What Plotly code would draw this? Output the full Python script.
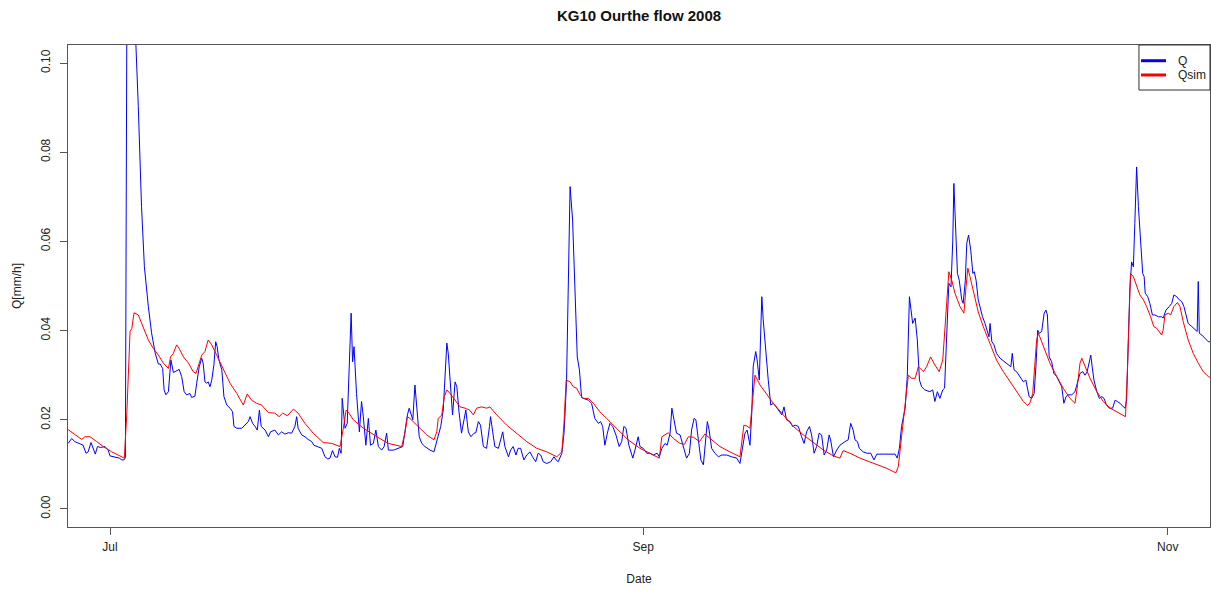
import pandas as pd
import plotly.graph_objects as go

# Hourly discharge series, hours counted from 2008-07-01 00:00
START = "2008-07-01"

Q_HOURS = [
    -117, -107, -98, -84, -75, -67, -61, -53, -47, -41, -35, -26, -14, -5, 0, 14, 26, 33, 39, 43,
    45, 47, 52, 59, 67, 73, 79, 88, 96, 107, 116, 126, 135, 140, 147, 151, 156, 163, 167, 170,
    177, 186, 193, 200, 207, 214, 223, 228, 237, 242, 249, 256, 260, 265, 270, 274, 279, 284, 290, 295,
    299, 304, 312, 318, 326, 335, 342, 346, 354, 368, 377, 386, 391, 398, 405, 411, 417, 422, 433, 442,
    448, 460, 470, 479, 488, 498, 507, 516, 521, 525, 535, 544, 553, 563, 569, 579, 591, 600, 608, 614,
    621, 628, 635, 640, 645, 648, 656, 662, 667, 673, 677, 681, 688, 696, 702, 707, 714, 721, 727, 735,
    742, 749, 758, 765, 772, 777, 791, 805, 817, 823, 830, 835, 840, 845, 851, 858, 863, 870, 879, 893,
    904, 913, 923, 930, 935, 940, 944, 951, 956, 963, 968, 974, 981, 988, 993, 1000, 1007, 1016, 1021, 1028,
    1034, 1042, 1051, 1059, 1062, 1068, 1074, 1084, 1090, 1096, 1102, 1112, 1118, 1125, 1133, 1139, 1146, 1155, 1163, 1172,
    1179, 1188, 1195, 1202, 1209, 1219, 1230, 1239, 1245, 1251, 1261, 1267, 1274, 1279, 1284, 1291, 1298, 1304, 1310, 1316,
    1321, 1335, 1344, 1353, 1363, 1369, 1375, 1381, 1388, 1395, 1403, 1412, 1421, 1428, 1434, 1440, 1448, 1459, 1465, 1474,
    1479, 1488, 1498, 1507, 1516, 1527, 1533, 1540, 1549, 1555, 1563, 1568, 1574, 1581, 1591, 1600, 1609, 1617, 1623, 1630,
    1635, 1642, 1649, 1656, 1660, 1667, 1672, 1679, 1688, 1698, 1707, 1721, 1735, 1749, 1758, 1765, 1772, 1778, 1786, 1791,
    1795, 1802, 1806, 1812, 1816, 1819, 1823, 1831, 1837, 1844, 1851, 1859, 1868, 1875, 1881, 1888, 1898, 1905, 1912, 1921,
    1930, 1937, 1944, 1952, 1958, 1965, 1972, 1979, 1986, 1993, 2000, 2007, 2011, 2019, 2028, 2037, 2051, 2060, 2067, 2074,
    2079, 2086, 2091, 2102, 2113, 2123, 2132, 2140, 2158, 2177, 2191, 2197, 2203, 2209, 2219, 2225, 2231, 2240, 2247, 2253,
    2259, 2265, 2274, 2288, 2296, 2302, 2309, 2316, 2324, 2329, 2335, 2341, 2347, 2352, 2355, 2360, 2365, 2370, 2377, 2381,
    2387, 2391, 2396, 2402, 2408, 2412, 2417, 2423, 2430, 2435, 2442, 2448, 2453, 2456, 2461, 2467, 2474, 2484, 2498, 2507,
    2514, 2518, 2523, 2530, 2540, 2549, 2556, 2560, 2565, 2572, 2579, 2584, 2589, 2593, 2600, 2607, 2612, 2616, 2621, 2628,
    2634, 2642, 2649, 2656, 2662, 2668, 2674, 2684, 2693, 2699, 2707, 2715, 2721, 2727, 2733, 2737, 2741, 2746, 2754, 2761,
    2768, 2774, 2781, 2789, 2798, 2805, 2811, 2819, 2828, 2833, 2837, 2842, 2846, 2851, 2856, 2860, 2865, 2870, 2876, 2882,
    2886, 2889, 2896, 2902, 2909, 2916, 2926, 2935, 2939, 2947, 2956, 2963, 2969, 2977, 2984, 2991, 2997, 3005, 3009, 3019,
    3028, 3034, 3037, 3040, 3047, 3056, 3065, 3070,
]
Q_VALUES = [
    0.0147, 0.0158, 0.0151, 0.0147, 0.0143, 0.0125, 0.0128, 0.0149, 0.0136, 0.0123, 0.0140, 0.0138, 0.0140, 0.0132, 0.0119, 0.0117, 0.0114, 0.0110, 0.0110, 0.0115,
    0.0600, 0.1100, 0.1300, 0.1280, 0.1150, 0.1040, 0.0902, 0.0678, 0.0543, 0.0454, 0.0395, 0.0350, 0.0325, 0.0325, 0.0315, 0.0267, 0.0256, 0.0263, 0.0300, 0.0334,
    0.0306, 0.0310, 0.0313, 0.0297, 0.0263, 0.0256, 0.0259, 0.0250, 0.0253, 0.0282, 0.0319, 0.0338, 0.0327, 0.0285, 0.0282, 0.0285, 0.0274, 0.0289, 0.0323, 0.0375,
    0.0364, 0.0334, 0.0312, 0.0252, 0.0233, 0.0226, 0.0218, 0.0185, 0.0181, 0.0181, 0.0188, 0.0196, 0.0207, 0.0192, 0.0185, 0.0177, 0.0222, 0.0185, 0.0177, 0.0162,
    0.0173, 0.0177, 0.0166, 0.0173, 0.0168, 0.0171, 0.0170, 0.0185, 0.0207, 0.0181, 0.0166, 0.0162, 0.0156, 0.0151, 0.0143, 0.0140, 0.0136, 0.0117, 0.0112, 0.0114,
    0.0131, 0.0117, 0.0116, 0.0136, 0.0125, 0.0248, 0.0181, 0.0192, 0.0304, 0.0439, 0.0330, 0.0364, 0.0259, 0.0173, 0.0241, 0.0207, 0.0143, 0.0203, 0.0143, 0.0147,
    0.0177, 0.0140, 0.0132, 0.0140, 0.0170, 0.0132, 0.0132, 0.0136, 0.0140, 0.0173, 0.0211, 0.0226, 0.0211, 0.0200, 0.0278, 0.0203, 0.0162, 0.0147, 0.0140, 0.0132,
    0.0128, 0.0155, 0.0185, 0.0222, 0.0297, 0.0372, 0.0349, 0.0252, 0.0211, 0.0285, 0.0274, 0.0218, 0.0170, 0.0200, 0.0222, 0.0173, 0.0162, 0.0170, 0.0171, 0.0196,
    0.0188, 0.0140, 0.0136, 0.0185, 0.0207, 0.0173, 0.0140, 0.0136, 0.0158, 0.0173, 0.0140, 0.0117, 0.0132, 0.0140, 0.0121, 0.0136, 0.0136, 0.0110, 0.0121, 0.0128,
    0.0117, 0.0106, 0.0125, 0.0121, 0.0106, 0.0102, 0.0106, 0.0117, 0.0110, 0.0106, 0.0125, 0.0170, 0.0282, 0.0469, 0.0723, 0.0648, 0.0461, 0.0341, 0.0312, 0.0250,
    0.0248, 0.0244, 0.0237, 0.0203, 0.0192, 0.0196, 0.0185, 0.0143, 0.0170, 0.0192, 0.0185, 0.0166, 0.0140, 0.0151, 0.0185, 0.0181, 0.0143, 0.0114, 0.0132, 0.0162,
    0.0140, 0.0136, 0.0125, 0.0125, 0.0121, 0.0125, 0.0117, 0.0136, 0.0147, 0.0143, 0.0170, 0.0226, 0.0200, 0.0170, 0.0166, 0.0140, 0.0114, 0.0125, 0.0177, 0.0203,
    0.0200, 0.0155, 0.0110, 0.0099, 0.0132, 0.0196, 0.0177, 0.0136, 0.0125, 0.0117, 0.0121, 0.0121, 0.0117, 0.0114, 0.0102, 0.0140, 0.0170, 0.0177, 0.0143, 0.0215,
    0.0319, 0.0353, 0.0334, 0.0289, 0.0394, 0.0476, 0.0424, 0.0341, 0.0289, 0.0233, 0.0237, 0.0229, 0.0218, 0.0211, 0.0229, 0.0200, 0.0196, 0.0185, 0.0188, 0.0185,
    0.0162, 0.0147, 0.0173, 0.0185, 0.0166, 0.0125, 0.0140, 0.0170, 0.0166, 0.0121, 0.0132, 0.0166, 0.0155, 0.0117, 0.0132, 0.0143, 0.0151, 0.0155, 0.0192, 0.0177,
    0.0155, 0.0151, 0.0136, 0.0128, 0.0125, 0.0125, 0.0110, 0.0123, 0.0123, 0.0123, 0.0123, 0.0114, 0.0136, 0.0185, 0.0226, 0.0297, 0.0476, 0.0416, 0.0428, 0.0379,
    0.0289, 0.0274, 0.0267, 0.0263, 0.0267, 0.0241, 0.0263, 0.0248, 0.0267, 0.0271, 0.0379, 0.0506, 0.0498, 0.0603, 0.0730, 0.0640, 0.0528, 0.0513, 0.0469, 0.0461,
    0.0513, 0.0596, 0.0614, 0.0581, 0.0528, 0.0532, 0.0513, 0.0469, 0.0446, 0.0431, 0.0416, 0.0401, 0.0386, 0.0416, 0.0375, 0.0368, 0.0349, 0.0338, 0.0330, 0.0323,
    0.0319, 0.0349, 0.0312, 0.0308, 0.0297, 0.0285, 0.0289, 0.0274, 0.0252, 0.0248, 0.0259, 0.0319, 0.0401, 0.0394, 0.0398, 0.0439, 0.0446, 0.0435, 0.0341, 0.0330,
    0.0304, 0.0297, 0.0285, 0.0274, 0.0237, 0.0252, 0.0256, 0.0256, 0.0263, 0.0282, 0.0304, 0.0308, 0.0300, 0.0308, 0.0334, 0.0345, 0.0319, 0.0289, 0.0263, 0.0248,
    0.0252, 0.0248, 0.0233, 0.0226, 0.0226, 0.0244, 0.0241, 0.0237, 0.0229, 0.0226, 0.0244, 0.0379, 0.0491, 0.0554, 0.0543, 0.0640, 0.0767, 0.0678, 0.0596, 0.0528,
    0.0521, 0.0484, 0.0476, 0.0461, 0.0435, 0.0435, 0.0431, 0.0431, 0.0428, 0.0446, 0.0454, 0.0461, 0.0480, 0.0476, 0.0469, 0.0465, 0.0454, 0.0431, 0.0416, 0.0409,
    0.0401, 0.0398, 0.0510, 0.0394, 0.0390, 0.0383, 0.0375, 0.0375,
]

QSIM_HOURS = [
    -117, -98, -79, -70, -56, -37, -19, 5, 23, 40, 47, 56, 61, 67, 79, 93, 107, 121, 135, 149,
    163, 169, 177, 186, 193, 205, 219, 232, 240, 249, 256, 265, 274, 284, 298, 316, 335, 354, 372, 383,
    395, 409, 423, 442, 460, 472, 482, 495, 512, 525, 544, 567, 595, 619, 642, 651, 659, 666, 679, 707,
    735, 753, 777, 800, 814, 823, 830, 837, 856, 884, 904, 912, 916, 926, 933, 940, 949, 963, 977, 991,
    1003, 1014, 1023, 1037, 1051, 1060, 1079, 1107, 1135, 1163, 1191, 1219, 1247, 1261, 1267, 1273, 1284, 1293, 1302, 1312,
    1321, 1335, 1349, 1367, 1386, 1405, 1423, 1446, 1479, 1507, 1533, 1540, 1549, 1558, 1572, 1591, 1603, 1614, 1628, 1645,
    1660, 1679, 1702, 1730, 1758, 1769, 1777, 1786, 1792, 1800, 1814, 1833, 1851, 1879, 1907, 1935, 1963, 1991, 2019, 2037,
    2046, 2065, 2093, 2130, 2168, 2193, 2200, 2209, 2219, 2228, 2237, 2247, 2256, 2270, 2279, 2290, 2302, 2314, 2324, 2330,
    2337, 2341, 2349, 2358, 2372, 2383, 2389, 2394, 2400, 2409, 2423, 2437, 2456, 2474, 2493, 2512, 2530, 2549, 2560, 2567,
    2575, 2581, 2586, 2591, 2605, 2623, 2642, 2660, 2679, 2693, 2699, 2707, 2712, 2721, 2735, 2754, 2772, 2791, 2809, 2828,
    2834, 2839, 2845, 2848, 2856, 2865, 2874, 2884, 2893, 2904, 2913, 2921, 2928, 2935, 2939, 2944, 2953, 2960, 2969, 2979,
    2986, 2995, 3009, 3023, 3037, 3051, 3065, 3070,
]
QSIM_VALUES = [
    0.0178, 0.0168, 0.0156, 0.0162, 0.0162, 0.0151, 0.0140, 0.0128, 0.0121, 0.0114, 0.0215, 0.0398, 0.0405, 0.0440, 0.0435, 0.0409, 0.0379, 0.0360, 0.0345, 0.0327,
    0.0315, 0.0341, 0.0349, 0.0368, 0.0360, 0.0341, 0.0327, 0.0308, 0.0304, 0.0327, 0.0345, 0.0353, 0.0379, 0.0368, 0.0345, 0.0312, 0.0282, 0.0259, 0.0233, 0.0258,
    0.0244, 0.0237, 0.0233, 0.0216, 0.0215, 0.0207, 0.0215, 0.0209, 0.0224, 0.0215, 0.0192, 0.0170, 0.0149, 0.0147, 0.0140, 0.0180, 0.0222, 0.0216, 0.0200, 0.0181,
    0.0166, 0.0158, 0.0147, 0.0143, 0.0140, 0.0170, 0.0207, 0.0203, 0.0188, 0.0166, 0.0155, 0.0173, 0.0203, 0.0211, 0.0252, 0.0267, 0.0259, 0.0244, 0.0229, 0.0226,
    0.0222, 0.0211, 0.0226, 0.0229, 0.0226, 0.0229, 0.0211, 0.0188, 0.0170, 0.0151, 0.0136, 0.0128, 0.0117, 0.0128, 0.0192, 0.0289, 0.0285, 0.0274, 0.0271, 0.0256,
    0.0248, 0.0248, 0.0237, 0.0218, 0.0203, 0.0188, 0.0173, 0.0155, 0.0136, 0.0125, 0.0114, 0.0162, 0.0166, 0.0171, 0.0158, 0.0147, 0.0145, 0.0162, 0.0161, 0.0151,
    0.0168, 0.0155, 0.0140, 0.0128, 0.0117, 0.0188, 0.0186, 0.0181, 0.0237, 0.0300, 0.0278, 0.0256, 0.0237, 0.0211, 0.0185, 0.0166, 0.0149, 0.0132, 0.0119, 0.0114,
    0.0131, 0.0125, 0.0114, 0.0102, 0.0091, 0.0081, 0.0095, 0.0162, 0.0229, 0.0300, 0.0293, 0.0293, 0.0319, 0.0308, 0.0319, 0.0341, 0.0323, 0.0308, 0.0334, 0.0409,
    0.0491, 0.0532, 0.0513, 0.0484, 0.0454, 0.0439, 0.0498, 0.0540, 0.0521, 0.0487, 0.0442, 0.0409, 0.0372, 0.0334, 0.0308, 0.0285, 0.0263, 0.0241, 0.0232, 0.0237,
    0.0259, 0.0319, 0.0379, 0.0394, 0.0364, 0.0327, 0.0297, 0.0271, 0.0248, 0.0237, 0.0271, 0.0327, 0.0338, 0.0319, 0.0293, 0.0263, 0.0241, 0.0226, 0.0218, 0.0209,
    0.0207, 0.0304, 0.0469, 0.0528, 0.0521, 0.0498, 0.0480, 0.0469, 0.0454, 0.0431, 0.0409, 0.0405, 0.0398, 0.0390, 0.0401, 0.0435, 0.0439, 0.0435, 0.0454, 0.0463,
    0.0454, 0.0420, 0.0379, 0.0349, 0.0327, 0.0308, 0.0297, 0.0295,
]

Y_TICKS = [0.00, 0.02, 0.04, 0.06, 0.08, 0.10]
X_TICK_DATES = ["2008-07-01", "2008-09-01", "2008-11-01"]
X_TICK_LABELS = ["Jul", "Sep", "Nov"]

base = pd.Timestamp(START)
q_time = base + pd.to_timedelta(Q_HOURS, unit="h")
qsim_time = base + pd.to_timedelta(QSIM_HOURS, unit="h")
x_range = [base + pd.Timedelta(hours=-117.2), base + pd.Timedelta(hours=3069.8)]

FONT = "Liberation Sans, Arial, Helvetica, sans-serif"
INK = "#222222"
FRAME = "#555555"

fig = go.Figure()
fig.add_trace(go.Scatter(x=q_time, y=Q_VALUES, mode="lines", name="Q",
                         line=dict(color="#0000ff", width=1), showlegend=False))
fig.add_trace(go.Scatter(x=qsim_time, y=QSIM_VALUES, mode="lines", name="Qsim",
                         line=dict(color="#ff0000", width=1), showlegend=False))

fig.update_layout(
    width=1211, height=591,
    margin=dict(l=68, r=1, t=45, b=64, pad=0),
    paper_bgcolor="white", plot_bgcolor="white",
    font=dict(family=FONT, size=12, color=INK),
    title=dict(text="<b>KG10 Ourthe flow 2008</b>", x=0.5, xref="paper", xanchor="center",
               y=1 - 16 / 591, yref="container", yanchor="middle",
               font=dict(family=FONT, size=15, color="#111111")),
    xaxis=dict(
        type="date", range=x_range, showgrid=False, zeroline=False,
        tickvals=pd.to_datetime(X_TICK_DATES), ticktext=X_TICK_LABELS,
        ticks="outside", ticklen=7, tickwidth=1, tickcolor=FRAME,
        showline=True, mirror=True, linecolor=FRAME, linewidth=1,
        tickfont=dict(size=12, color=INK), ticklabelstandoff=2,
        title=dict(text="Date", standoff=21, font=dict(size=12, color=INK)),
        automargin=False,
    ),
    yaxis=dict(
        range=[-0.00404, 0.10404], showgrid=False, zeroline=False,
        tickvals=Y_TICKS, tickformat=".2f", tickangle=-90,
        ticks="outside", ticklen=7, tickwidth=1, tickcolor=FRAME,
        showline=True, mirror=True, linecolor=FRAME, linewidth=1,
        tickfont=dict(size=12, color=INK), ticklabelstandoff=5,
        title=dict(text="Q[mm/h]", standoff=15, font=dict(size=12, color=INK)),
        automargin=False,
    ),
)

# Legend box in the top-right corner of the plotting region
fig.add_shape(type="rect", xref="paper", yref="paper", x0=0.9378, x1=1.0, y0=0.9066, y1=1.0,
              line=dict(color="#333333", width=1), fillcolor="white", layer="above")
legend_items = [("Q", "#0000ff", 0.9674), ("Qsim", "#ff0000", 0.9378)]
for label, color, ypos in legend_items:
    fig.add_shape(type="line", xref="paper", yref="paper", x0=0.9396, x1=0.9615, y0=ypos, y1=ypos,
                  line=dict(color=color, width=3), layer="above")
    fig.add_annotation(text=label, xref="paper", yref="paper", x=0.9702, y=ypos,
                       xanchor="left", yanchor="middle", showarrow=False,
                       font=dict(family=FONT, size=12, color=INK))

fig.write_html("out.html")
